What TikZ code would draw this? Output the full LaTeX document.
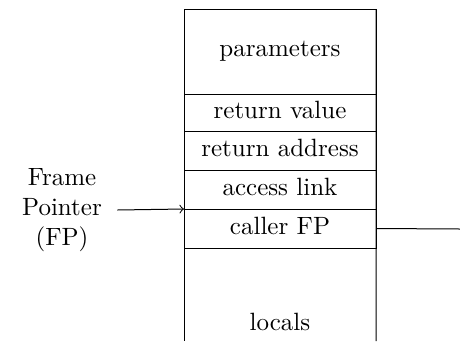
\documentclass[tikz,border=0pt]{standalone}
\begin{document}
\begin{tikzpicture}[x=0.4pt,y=-0.4pt,
  row/.style={draw, minimum width=76.8pt, inner sep=0pt, outer sep=0pt, anchor=north west, line width=0.4pt, text depth=0.45ex},
  lbl/.style={align=center, inner sep=0pt}]
\useasboundingbox (0,0) rectangle (460,341);
\node[row, minimum height=34pt] (params) at (184,9) {parameters};
\node[row, minimum height=14.8pt] (retval) at (184,94) {return value};
\node[row, minimum height=15.6pt] (retaddr) at (184,131) {return address};
\node[row, minimum height=15.6pt] (access) at (184,170) {access link};
\node[row, minimum height=15.6pt] (callerfp) at (184,209) {caller FP};
\coordinate (bl) at (184,341);
\coordinate (br) at (376,341);
\draw (params.north west) -- (bl);
\draw (params.north east) -- (br);
\node[lbl] (locals) at (280,322) {locals};
\node[align=center, inner xsep=6pt, inner ysep=0pt] (fp) at (62,210) {Frame\\Pointer\\(FP)};
\draw[->] (fp.east) -- (callerfp.north west);
\coordinate (out) at (460,229);
\draw (callerfp.east) -- (out);
\end{tikzpicture}
\end{document}
